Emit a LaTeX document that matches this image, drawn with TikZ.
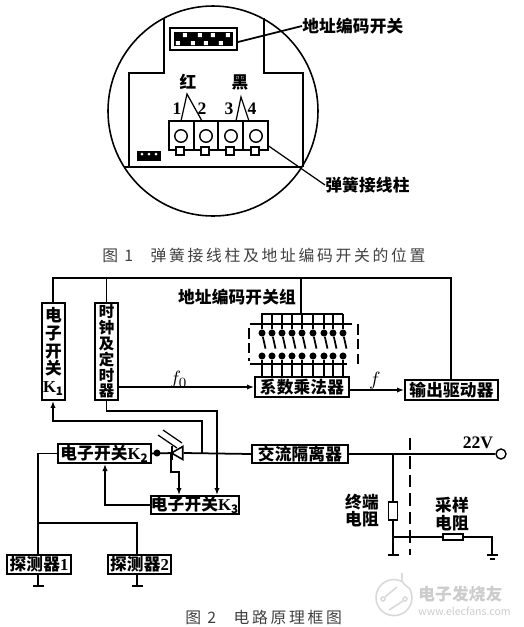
\documentclass[tikz,border=0pt]{standalone}
\usepackage{fontspec}
\setmainfont{Noto Sans CJK SC}[LetterSpace=1]
\newfontfamily\capfont{Noto Sans CJK SC}[LetterSpace=17]
\newfontfamily\markfont{Noto Sans CJK SC}
\newfontfamily\numfont{Liberation Serif}
\usetikzlibrary{shapes.geometric, arrows.meta, positioning}

\begin{document}
\begin{tikzpicture}[
    x=0.02cm, y=-0.02cm,
    wire/.style={draw, line width=1pt},
    thinwire/.style={draw, line width=0.7pt},
    arrowwire/.style={wire, -{Latex[length=4pt,width=3pt]}},
    boxnode/.style={rectangle, draw, line width=1.1pt, inner sep=0pt, font=\fontsize{9.5}{10}\selectfont\bfseries},
    tallbox/.style={boxnode, align=center, minimum width=0.46cm, minimum height=1.94cm},
    lbl/.style={inner sep=0pt, font=\fontsize{9.5}{10}\selectfont\bfseries},
    num/.style={inner sep=0pt, font=\fontsize{10}{11}\selectfont\numfont\bfseries},
    caption/.style={inner sep=0pt, text=black!75, font=\fontsize{9}{10}\selectfont\capfont},
    mark text/.style={inner sep=0pt, text=black!20},
    dot/.style={circle, fill, inner sep=0pt, minimum size=4pt},
    post/.style={circle, draw, line width=0.8pt, inner sep=0pt, minimum size=0.25cm},
    pin/.style={rectangle, draw, line width=0.9pt, inner sep=0pt, minimum size=0.15cm},
    term/.style={rectangle, draw, line width=1pt, inner sep=0pt, minimum width=0.49cm, minimum height=0.58cm},
    every edge/.style={draw, line width=1pt}
]
\useasboundingbox (0,0) rectangle (524,627);

% Figure 1: housing outline
\draw[line width=0.9pt] (213,111) circle [radius=105];
\draw[line width=0.9pt] (164,18) -- (164,73) -- (129,73) -- (129,167);
\draw[line width=0.9pt] (264,18) -- (264,73) -- (303,73) -- (303,167);
\draw[line width=0.9pt] (124,167) -- (302,167);

% Figure 1: address switch
\node[rectangle, draw, line width=1pt, minimum width=1.34cm, minimum height=0.44cm] (addr) at (203.5,39) {};
\fill (174,32) rectangle (233,46);
\fill[white] (183,33) rectangle (187,37) (198,33) rectangle (202,37) (211,33) rectangle (215,37) (226,33) rectangle (230,37);
\fill[white] (176,41) rectangle (180,45) (191,41) rectangle (195,45) (204,41) rectangle (208,45) (219,41) rectangle (223,45);
\node[lbl, anchor=west] (addrlbl) at (302,26) {地址编码开关};
\draw[wire] (addr.east |- 0,42) -- (addrlbl.west);

% Figure 1: terminals
\node[term] (t1) at (181.5,135.5) {};
\node[term] (t2) at (206,135.5) {};
\node[term] (t3) at (230.5,135.5) {};
\node[term] (t4) at (255.5,135.5) {};
\node[post] (p1) at (181,136) {};
\node[post] (p2) at (206,136) {};
\node[post] (p3) at (231,136) {};
\node[post] (p4) at (256,136) {};
\node[pin, fill=white] (q1) at (180,151) {};
\node[pin, fill=white] (q2) at (205,151) {};
\node[pin, fill=white] (q3) at (230,151) {};
\node[pin, fill=white] (q4) at (255,151) {};

% Figure 1: small socket
\fill (137,151) rectangle (161,161);
\fill[white] (142,154) circle [radius=1.5] (149,154) circle [radius=1.5] (156,154) circle [radius=1.5];

% Figure 1: wire labels
\node[lbl] (red) at (188,82) {红};
\node[lbl] (black) at (240,82) {黑};
\coordinate (redtop) at (187,94);
\coordinate (blacktop) at (241,97);
\draw[thinwire] (181,121) -- (redtop) -- (202,121);
\draw[thinwire] (236,121) -- (blacktop) -- (249,121);
\node[num] (n1) at (177,109) {1};
\node[num] (n2) at (202,109) {2};
\node[num] (n3) at (229,109) {3};
\node[num] (n4) at (252,109) {4};
\node[lbl, anchor=west] (termlbl) at (325,185) {弹簧接线柱};
\draw[thinwire] (t4.east |- 0,146) -- (termlbl.west);

\node[caption, anchor=west] (cap1) at (102,255) {图 1\hspace{1.1em}弹簧接线柱及地址编码开关的位置};

% Figure 2: blocks
\node[tallbox] (k1) at (53.5,351.5) {电\\子\\开\\关\\{\numfont\bfseries K$_{\mathbf{1}}$}};
\node[tallbox, font=\fontsize{8.8}{9}\selectfont\bfseries] (clock) at (106.5,351.5) {时\\钟\\及\\定\\时\\器};
\node[boxnode, minimum width=1.88cm, minimum height=0.4cm] (mult) at (302,387) {系数乘法器};
\node[boxnode, minimum width=1.86cm, minimum height=0.4cm] (driver) at (451.5,390) {输出驱动器};
\node[boxnode, minimum width=1.92cm, minimum height=0.36cm] (iso) at (300,454) {交流隔离器};
\node[boxnode, minimum width=1.86cm, minimum height=0.38cm] (k2) at (104.5,453.5) {电子开关{\numfont\bfseries K$_{\mathbf{2}}$}};
\node[boxnode, minimum width=1.76cm, minimum height=0.36cm] (k3) at (195,505) {电子开关{\numfont\bfseries K$_{\mathbf{3}}$}};
\node[boxnode, minimum width=1.28cm, minimum height=0.38cm] (det1) at (39,564.5) {探测器{\numfont\bfseries 1}};
\node[boxnode, minimum width=1.26cm, minimum height=0.38cm] (det2) at (139.5,564.5) {探测器{\numfont\bfseries 2}};

% Figure 2: power bus
\coordinate (busL) at (53,278);
\coordinate (busR) at (451,278);
\coordinate (busM) at (301,278);
\draw[wire] (k1.north -| busL) -- (busL) -- (busR) -- (driver.north -| busR);
\path (clock.north) edge (clock.north |- busL);

% Figure 2: clock and multiplier links
\draw[arrowwire] (clock.east |- mult) -- node[lbl, pos=0.44, above=-1pt] (f0) {\normalfont\fontsize{11}{12}\selectfont$f_0$} (mult.west);
\draw[arrowwire] (mult.east |- driver) -- node[lbl, pos=0.46, above=0pt] (f1) {\normalfont\fontsize{11}{12}\selectfont$f$} (driver.west);

% Figure 2: address switch bank
\node[lbl] (banklbl) at (237,297) {地址编码开关组};
\coordinate (barL) at (261,314);
\coordinate (barR) at (343,314);
\draw[wire] (barL) -- (barR);
\path (busM) edge (busM |- barL);

\node[dot] (T1) at (262,333) {};
\node[dot] (T2) at (272,333) {};
\node[dot] (T3) at (282,333) {};
\node[dot] (T4) at (292,333) {};
\node[dot] (T5) at (302,333) {};
\node[dot] (T6) at (313,333) {};
\node[dot] (T7) at (324,333) {};
\node[dot] (T8) at (333,333) {};
\node[dot] (T9) at (343,333) {};
\node[dot] (B1) at (262,356) {};
\node[dot] (B2) at (272,356) {};
\node[dot] (B3) at (282,356) {};
\node[dot] (B4) at (292,356) {};
\node[dot] (B5) at (302,356) {};
\node[dot] (B6) at (313,356) {};
\node[dot] (B7) at (324,356) {};
\node[dot] (B8) at (333,356) {};
\node[dot] (B9) at (343,356) {};

\path (T1) edge (T1 |- barL);
\path (T2) edge (T2 |- barL);
\path (T3) edge (T3 |- barL);
\path (T4) edge (T4 |- barL);
\path (T5) edge (T5 |- barL);
\path (T6) edge (T6 |- barL);
\path (T7) edge (T7 |- barL);
\path (T8) edge (T8 |- barL);
\path (T9) edge (T9 |- barL);

\path (B1) edge (B1 |- mult.north);
\path (B2) edge (B2 |- mult.north);
\path (B3) edge (B3 |- mult.north);
\path (B4) edge (B4 |- mult.north);
\path (B5) edge (B5 |- mult.north);
\path (B6) edge (B6 |- mult.north);
\path (B7) edge (B7 |- mult.north);
\path (B8) edge (B8 |- mult.north);
\path (B9) edge (B9 |- mult.north);

\path (T1) edge ([xshift=2pt,yshift=2pt]B1.north);
\path (T2) edge ([xshift=2pt,yshift=2pt]B2.north);
\path (T3) edge ([xshift=2pt,yshift=2pt]B3.north);
\path (T4) edge ([xshift=2pt,yshift=2pt]B4.north);
\path (T5) edge ([xshift=2pt,yshift=2pt]B5.north);
\path (T6) edge ([xshift=2pt,yshift=2pt]B6.north);
\path (T7) edge ([xshift=2pt,yshift=2pt]B7.north);
\path (T8) edge ([xshift=2pt,yshift=2pt]B8.north);
\path (T9) edge ([xshift=2pt,yshift=2pt]B9.north);

% Figure 2: dashed frame of the switch bank
\draw[wire] (250,324) -- (352,324);
\draw[wire] (250,364) -- (347,364);
\draw[line width=1pt, dash pattern=on 6pt off 2.5pt] (249,328) -- (249,361);
\draw[line width=1pt, dash pattern=on 6pt off 2.5pt] (358,324) -- (358,367);

% Figure 2: photodiode on the mains line
\coordinate (led) at (173,453);
\node[draw, line width=0.9pt, regular polygon, regular polygon sides=3, shape border rotate=90, inner sep=0pt, minimum size=0.3cm] (tri) at (179,453) {};
\draw[line width=1.2pt] (172,446) -- (172,460);
\draw[thinwire] (158,435) -- (177,448);
\draw[thinwire] (163,430) -- (182,443);

% Figure 2: wires around the photodiode
\node[dot] (kdot) at (157,453) {};
\coordinate (tap) at (202,453);
\draw[wire] (k2.east) -- (led);
\draw[wire] (tri.east) -- (iso.west);
\draw[arrowwire] (tap) -- (tap |- 0,421) -- (53,421) -- (k1.south -| 53,0);
\draw[arrowwire] (clock.south) -- (clock.south |- 0,411) -- (217,411) -- (k3.north -| 217,0);
\draw[arrowwire] (171,453) -- (171,472) -- (179,472) -- (k3.north -| 179,0);
\draw[arrowwire] (k3.west) -- (105,505) -- (k2.south -| 105,0);

% Figure 2: detectors
\coordinate (jct) at (38,523);
\draw[wire] (k2.west) -- (38,453.5) -- (det1.north -| 38,0);
\draw[wire] (jct) -- (137,523) -- (det2.north -| 137,0);
\coordinate (gnd1) at (38,586);
\coordinate (gnd2) at (137,586);
\draw[wire] (det1.south -| gnd1) -- (gnd1);
\draw[wire] (det2.south -| gnd2) -- (gnd2);
\draw[wire] (33,586) -- (44,586);
\draw[wire] (132,586) -- (143,586);

% Figure 2: isolated side
\node[post, minimum size=0.2cm] (term22) at (501,454) {};
\node[num] (v22) at (478,443) {22V};
\draw[wire] (iso.east) -- (term22.west);
\draw[line width=1.3pt, dash pattern=on 7pt off 3.5pt] (410,438) -- (410,555);

\node[rectangle, draw, line width=0.9pt, inner sep=0pt, minimum width=0.18cm, minimum height=0.36cm] (rend) at (393,511) {};
\node[rectangle, draw, line width=0.9pt, inner sep=0pt, minimum width=0.4cm, minimum height=0.12cm] (rsamp) at (453,537) {};
\node[lbl, align=center] (rendlbl) at (362,510.5) {终端\\电阻};
\node[lbl, align=center] (rsamplbl) at (452,514) {采样\\电阻};
\coordinate (gnd3) at (393,555);
\coordinate (gnd4) at (492,555);
\draw[wire] (393,454) -- (rend.north);
\draw[wire] (rend.south) -- (gnd3);
\draw[wire] (388,555) -- (399,555);
\draw[wire] (393,537) -- (rsamp.west);
\draw[wire] (rsamp.east) -- (492,537) -- (gnd4);
\draw[wire] (487,555) -- (498,555);
\draw[wire] (490,559) -- (495,559);

\node[caption, anchor=west] (cap2) at (185,617) {图 2\hspace{1.1em}电路原理框图};

% Watermark
\draw[black!15, line width=0.9pt] (403,582) arc (-60:-390:18) .. controls (398,580) and (403,580) .. (402,573);
\draw[black!15, line width=0.9pt] (385,597) -- (397,587);
\draw[black!15, line width=0.9pt] (403,601) -- (389,610);
\draw[black!15, line width=0.9pt] (383,599) circle [radius=2] (405,599) circle [radius=2];
\node[mark text, anchor=west, font=\fontsize{9.5}{10}\selectfont\bfseries] (mark1) at (418,594) {电子发烧友};
\node[mark text, anchor=west, font=\fontsize{6}{7}\selectfont\markfont] (mark2) at (418,611) {www.elecfans.com};
\end{tikzpicture}
\end{document}
